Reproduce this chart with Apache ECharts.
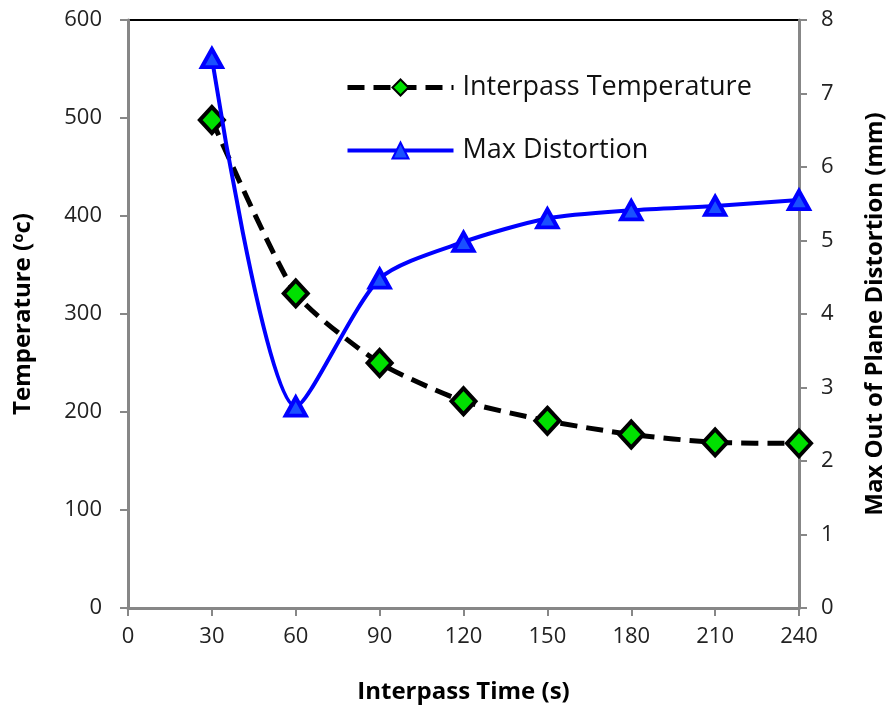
<!DOCTYPE html>
<html lang="en">
<head>
<meta charset="UTF-8">
<title>Interpass Time</title>
<script src="https://cdn.jsdelivr.net/npm/echarts@6/dist/echarts.min.js"></script>
<style>
  html, body { margin: 0; padding: 0; background: #fff; }
  #main { width: 887px; height: 711px; }
</style>
</head>
<body>
<div id="main"></div>
<script>
    // interpass time (s)
    var times = [30, 60, 90, 120, 150, 180, 210, 240];
    // interpass temperature (oC), left axis
    var temps = [498, 321, 250, 211, 191, 177, 169, 168];
    // max out of plane distortion (mm), right axis
    var distortion = [7.48, 2.74, 4.48, 4.98, 5.30, 5.41, 5.47, 5.55];

    function pairs(xs, ys) {
        var out = [];
        for (var i = 0; i < xs.length; i++) {
            out.push([xs[i], ys[i]]);
        }
        return out;
    }

    var font = 'Open Sans';
    var gray = '#878787';
    var dash = [17, 9];

    var myChart = echarts.init(document.getElementById('main'));
    myChart.setOption({
        animation: false,
        backgroundColor: '#fff',
        grid: {
            left: 128, right: 88, top: 20, bottom: 103,
            outerBoundsMode: 'none',
            containLabel: false,
            show: true, borderColor: '#000', borderWidth: 2,
            backgroundColor: 'transparent'
        },
        legend: {
            orient: 'vertical',
            left: 340, top: 69,
            itemWidth: 106, itemHeight: 20, itemGap: 36,
            textStyle: { fontFamily: font, fontSize: 27, color: '#111', padding: [0, 0, 0, 4] },
            data: [{
                name: 'Interpass Temperature',
                lineStyle: { width: 5, type: dash, color: '#000' }
            }, {
                name: 'Max Distortion',
                lineStyle: { width: 4, color: '#0000ff' }
            }]
        },
        xAxis: {
            type: 'value',
            min: 0, max: 240, interval: 30,
            name: 'Interpass Time (s)',
            nameLocation: 'middle',
            nameGap: 72,
            nameTextStyle: { fontFamily: font, fontSize: 24, fontWeight: 'bold', color: '#000' },
            axisLine: { lineStyle: { color: gray, width: 3 } },
            axisTick: { length: 8, lineStyle: { color: gray, width: 2 } },
            axisLabel: { fontFamily: font, fontSize: 22, color: '#222', margin: 18 },
            splitLine: { show: false }
        },
        yAxis: [{
            type: 'value',
            min: 0, max: 600, interval: 100,
            name: 'Temperature ({sup|o}c)',
            nameLocation: 'middle',
            nameRotate: 90,
            nameGap: 92,
            nameTextStyle: {
                fontFamily: font, fontSize: 24, fontWeight: 'bold', color: '#000',
                rich: {
                    sup: { fontFamily: font, fontSize: 15, fontWeight: 'bold', color: '#000', padding: [0, 0, 10, 0] }
                }
            },
            axisLine: { show: true, lineStyle: { color: gray, width: 3 } },
            axisTick: { show: true, length: 8, lineStyle: { color: gray, width: 2 } },
            axisLabel: { fontFamily: font, fontSize: 22, color: '#222', margin: 26 },
            splitLine: { show: false }
        }, {
            type: 'value',
            position: 'right',
            min: 0, max: 8, interval: 1,
            name: 'Max Out of Plane Distortion (mm)',
            nameLocation: 'middle',
            nameRotate: 90,
            nameGap: 64,
            nameTextStyle: { fontFamily: font, fontSize: 24, fontWeight: 'bold', color: '#000' },
            axisLine: { show: true, lineStyle: { color: gray, width: 3 } },
            axisTick: { show: true, length: 8, lineStyle: { color: gray, width: 2 } },
            axisLabel: { fontFamily: font, fontSize: 22, color: '#222', margin: 22 },
            splitLine: { show: false }
        }],
        series: [{
            name: 'Interpass Temperature',
            type: 'line',
            yAxisIndex: 0,
            smooth: 0.2,
            data: pairs(times, temps),
            symbol: 'diamond',
            symbolSize: [24, 26],
            lineStyle: { color: '#000', width: 5, type: dash },
            itemStyle: { color: '#00e000', borderColor: '#000', borderWidth: 4 },
            z: 2
        }, {
            name: 'Max Distortion',
            type: 'line',
            yAxisIndex: 1,
            smooth: 0.25,
            data: pairs(times, distortion),
            symbol: 'triangle',
            symbolSize: [20, 18],
            lineStyle: { color: '#0000ff', width: 4 },
            itemStyle: { color: '#1a50ff', borderColor: '#0000ff', borderWidth: 4 },
            z: 3
        }]
    });
</script>
</body>
</html>
